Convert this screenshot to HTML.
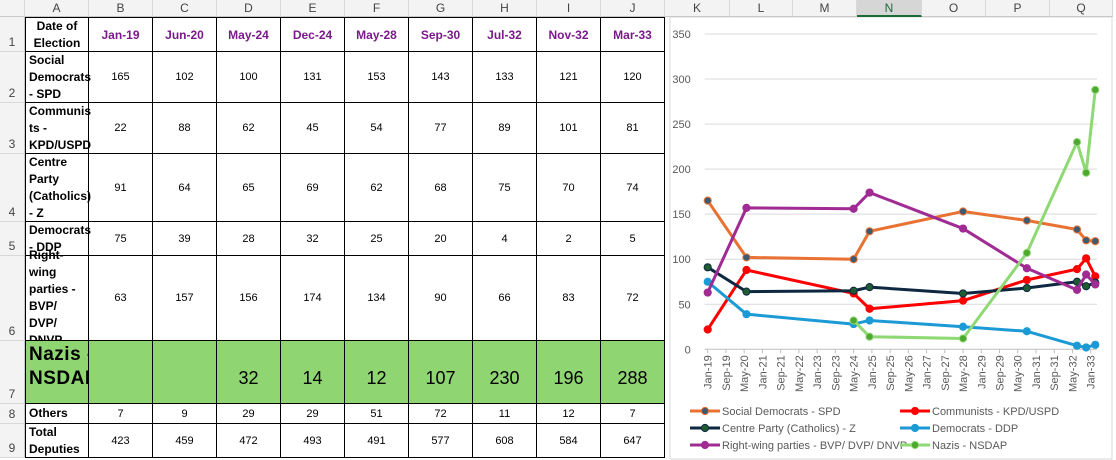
<!DOCTYPE html>
<html><head><meta charset="utf-8">
<style>
body{margin:0;width:1116px;height:460px;overflow:hidden;background:#fff;font-family:"Liberation Sans",Arial,sans-serif;position:relative}
.hdr{position:absolute;top:0;height:17px;background:#f3f3f3;border-right:1px solid #d8d8d8;border-bottom:1px solid #c8c8c8;box-sizing:border-box;text-align:center;font-size:12px;line-height:17px;color:#444}
.rh{position:absolute;left:0;width:25px;background:#f3f3f3;border-bottom:1px solid #d8d8d8;border-right:1px solid #c8c8c8;box-sizing:border-box;font-size:12px;color:#444;display:flex;align-items:flex-end;justify-content:center;padding-bottom:2px}
.c{position:absolute;border-right:1px solid #000;border-bottom:1px solid #000;box-sizing:border-box;display:flex;align-items:center;justify-content:center;font-size:11px;color:#000}
.lab{justify-content:flex-start;font-weight:bold;font-size:12px;line-height:17px;padding-left:3px}
.dh{color:#7a1a8a;font-weight:bold;font-size:12px}
.g{background:#8fd672}
</style></head><body>
<div id="hdrs"></div>
<div id="cells"></div>
<svg id="chart" style="position:absolute;left:668px;top:17px" width="446" height="443"></svg>
<script>
const cols=['A','B','C','D','E','F','G','H','I','J'];
const colEdges=[25,89,153,217,281,345,409,473,537,601,665];
const kEdges=[665,730,793,857,922,986,1050,1113];
const kNames=['K','L','M','N','O','P','Q'];
const rowEdges=[17,52,103,154,222,256,341,404,424,458];
const dateLabels=['Jan-19','Jun-20','May-24','Dec-24','May-28','Sep-30','Jul-32','Nov-32','Mar-33'];
const monthIdx=[0,17,64,71,112,140,162,166,170];
const seriesNames=['Social Democrats - SPD','Communists - KPD/USPD','Centre Party (Catholics) - Z','Democrats - DDP','Right-wing parties - BVP/ DVP/ DNVP','Nazis - NSDAP'];
const tableLabels=['Social Democrats - SPD','Communis ts - KPD/USPD','Centre Party (Catholics) - Z','Democrats - DDP','Right-wing parties - BVP/ DVP/ DNVP','Nazis - NSDAP','Others','Total Deputies'];
const spd=[165,102,100,131,153,143,133,121,120];
const kpd=[22,88,62,45,54,77,89,101,81];
const zen=[91,64,65,69,62,68,75,70,74];
const ddp=[75,39,28,32,25,20,4,2,5];
const right=[63,157,156,174,134,90,66,83,72];
const nazi=[null,null,32,14,12,107,230,196,288];
const others=[7,9,29,29,51,72,11,12,7];
const total=[423,459,472,493,491,577,608,584,647];
const yTicks=[0,50,100,150,200,250,300,350];
const xTickLabels=['Jan-19','Sep-19','May-20','Jan-21','Sep-21','May-22','Jan-23','Sep-23','May-24','Jan-25','Sep-25','May-26','Jan-27','Sep-27','May-28','Jan-29','Sep-29','May-30','Jan-31','Sep-31','May-32','Jan-33'];

const H=document.getElementById('hdrs');
function hd(x,w,t,sel){const d=document.createElement('div');d.className='hdr';d.style.left=x+'px';d.style.width=w+'px';d.textContent=t;
if(sel){d.style.background='#d6d6d6';d.style.color='#1e6b3a';d.style.borderBottom='2px solid #1e6b3a';}

H.appendChild(d);}
hd(0,25,'',false);
for(let i=0;i<10;i++)hd(colEdges[i],colEdges[i+1]-colEdges[i],cols[i],false);
for(let i=0;i<7;i++)hd(kEdges[i],kEdges[i+1]-kEdges[i],kNames[i],kNames[i]==='N');
for(let r=0;r<9;r++){const d=document.createElement('div');d.className='rh';d.style.top=rowEdges[r]+'px';d.style.height=(rowEdges[r+1]-rowEdges[r])+'px';d.textContent=r+1;

H.appendChild(d);}

const C=document.getElementById('cells');
const rows=[spd,kpd,zen,ddp,right,nazi,others,total];
function cell(r,c,txt,cls,name){const d=document.createElement('div');d.className='c '+cls;
d.style.left=colEdges[c]+'px';d.style.top=rowEdges[r]+'px';d.style.width=(colEdges[c+1]-colEdges[c])+'px';d.style.height=(rowEdges[r+1]-rowEdges[r])+'px';
if(c===0)d.style.borderLeft='1px solid #000';if(r===0)d.style.borderTop='1px solid #000';
d.textContent=txt;

C.appendChild(d);return d;}
const h0=cell(0,0,'Date of Election','lab','date-header-cell');h0.style.justifyContent='center';h0.style.textAlign='center';h0.style.padding='0';
for(let j=0;j<9;j++)cell(0,j+1,dateLabels[j],'dh','date-'+dateLabels[j].toLowerCase());
for(let r=0;r<8;r++){
 const isN=r===5;
 const l=cell(r+1,0,tableLabels[r],'lab'+(isN?' g':''),'party-label-'+(r+1));
 if(isN){l.style.fontSize='19px';l.style.lineHeight='24px';l.style.alignItems='flex-start';l.style.paddingTop='2px';l.style.letterSpacing='0.5px';}
 for(let j=0;j<9;j++){const v=rows[r][j];const d=cell(r+1,j+1,v==null?'':v,isN?'g':'','value-r'+(r+2)+'-c'+(j+1));
  if(isN){d.style.fontSize='18px';d.style.alignItems='flex-end';d.style.paddingBottom='14px';}}
}

// chart
const svg=document.getElementById('chart');const NS='http://www.w3.org/2000/svg';
const OX=668,OY=17;
function X(m){return 707.7+m*(1090.7-707.7)/168-OX;}
function Y(v){return 349.3-v*(349.3-34)/350-OY;}
function el(t,a,p){const e=document.createElementNS(NS,t);for(const k in a)e.setAttribute(k,a[k]);(p||svg).appendChild(e);return e;}
const bg=el('rect',{x:2,y:0,width:442,height:442,fill:'#fff',stroke:'#d9d9d9'});


yTicks.forEach(v=>{const g=el('line',{x1:X(0)-3,x2:1097-OX,y1:Y(v),y2:Y(v),stroke:v===0?'#bfbfbf':'#d9d9d9','stroke-width':1});


const t=el('text',{x:X(0)-17,y:Y(v)+4,'text-anchor':'end','font-size':11,fill:'#595959','font-family':'Liberation Sans, sans-serif'});t.textContent=v;

});
xTickLabels.forEach((s,i)=>{const x=X(i*8);
el('line',{x1:x,x2:x,y1:Y(0),y2:Y(0)+4,stroke:'#bfbfbf'});
const t=el('text',{x:0,y:0,'text-anchor':'end','font-size':11,fill:'#595959','font-family':'Liberation Sans, sans-serif',transform:`translate(${x+4},${Y(0)+6}) rotate(-90)`});t.textContent=s;

});
const styles=[['#e97132','#3c5a70'],['#ff0000','#ff0000'],['#0e2841','#1e5c32'],['#1c9ad6','#1c9ad6'],['#a02b93','#a02b93'],['#8ed973','#4ea72e']];
const data=[spd,kpd,zen,ddp,right,nazi];
data.forEach((s,k)=>{const pts=[];s.forEach((v,j)=>{if(v!=null)pts.push([X(monthIdx[j]),Y(v)]);});
const p=el('polyline',{points:pts.map(q=>q.join(',')).join(' '),fill:'none',stroke:styles[k][0],'stroke-width':3,'stroke-linejoin':'round'});


pts.forEach(q=>{const c=el('circle',{cx:q[0],cy:q[1],r:3.6,fill:styles[k][1],stroke:styles[k][0],'stroke-width':1});

});});
// legend
const lx=[690-OX,900-OX],ly=[411-OY,428-OY,445-OY];
seriesNames.forEach((n,k)=>{const x=lx[k%2],y=ly[Math.floor(k/2)];
const g=el('g',{});

el('line',{x1:x,x2:x+30,y1:y,y2:y,stroke:styles[k][0],'stroke-width':3},g);
el('circle',{cx:x+15,cy:y,r:3.6,fill:styles[k][1],stroke:styles[k][0]},g);
const t=el('text',{x:x+32,y:y+4,'font-size':11,fill:'#595959','font-family':'Liberation Sans, sans-serif'},g);t.textContent=n;});
</script>
</body></html>
